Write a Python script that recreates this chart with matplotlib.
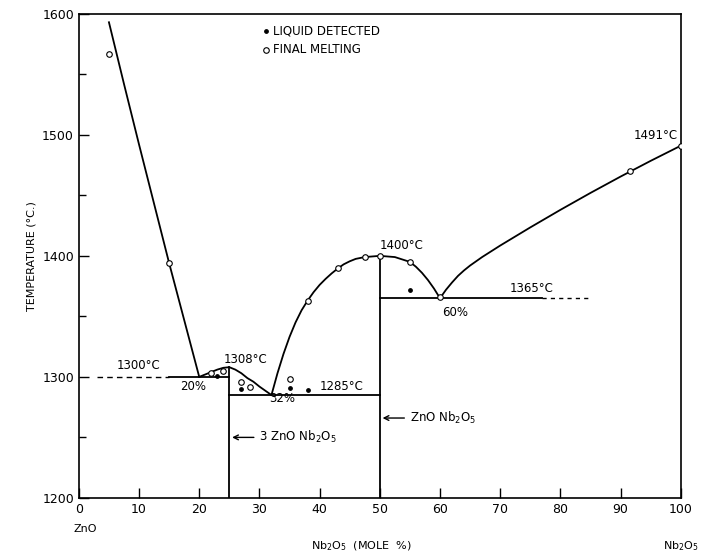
"""
ZnO - Nb2O5 phase diagram
"""

import matplotlib.pyplot as plt

# liquidus, ZnO side down to the 20% eutectic
liq_zno_x = [5, 7.5, 10, 12.5, 15, 17.5, 20]
liq_zno_t = [1593, 1542, 1492, 1443, 1394, 1347, 1300]

# 3ZnO.Nb2O5 liquidus, 20% -> 32%
liq_mid_x = [20, 21, 22, 23, 24, 25, 26, 27, 28, 29, 30, 31, 32]
liq_mid_t = [1300, 1302, 1304, 1306, 1307.5, 1308, 1306, 1303, 1299, 1296, 1292, 1288.5, 1285]

# ZnO.Nb2O5 dome, 32% -> 60%
liq_dome_x = [32, 33, 34, 35, 36, 37, 38, 39, 40, 41, 42, 43, 44, 45, 46, 47.5, 50,
              52.5, 55, 56, 57, 58, 59, 60]
liq_dome_t = [1285, 1303, 1319, 1333, 1345, 1355, 1363, 1370, 1376, 1381, 1385.5, 1389.5,
              1393, 1395.5, 1397.5, 1399, 1400, 1399, 1395, 1391, 1386, 1380, 1373, 1365]

# Nb2O5 side, 60% -> 100%
liq_nb_x = [60, 61, 62, 63, 64, 65, 67, 70, 75, 80, 85, 90, 95, 100]
liq_nb_t = [1365, 1372, 1378, 1383.5, 1388, 1392, 1399, 1408.5, 1423.5, 1438, 1452,
            1465.5, 1478.5, 1491]

# measured points
melt_x = [5, 15, 22, 24, 27, 28.5, 35, 38, 43, 47.5, 50, 55, 60, 91.5, 100]
melt_t = [1567, 1394, 1303, 1305, 1296, 1292, 1298, 1363, 1390, 1399, 1400, 1395, 1366, 1470, 1491]
liquid_x = [23, 27, 35, 38, 55]
liquid_t = [1301, 1290, 1291, 1289, 1372]

fig = plt.figure(figsize=(7.04, 5.52), dpi=100)
ax = fig.add_axes([0.112, 0.098, 0.855, 0.877])

lw = 1.3
for xs, ts in [(liq_zno_x, liq_zno_t), (liq_mid_x, liq_mid_t),
               (liq_dome_x, liq_dome_t), (liq_nb_x, liq_nb_t)]:
    ax.plot(xs, ts, color='black', lw=lw, solid_joinstyle='round')

# eutectic / solidus lines
ax.plot([3, 15], [1300, 1300], color='black', lw=1.0, ls=(0, (4, 3)))
ax.plot([15, 25], [1300, 1300], color='black', lw=lw)
ax.plot([25, 50], [1285, 1285], color='black', lw=lw)
ax.plot([50, 77], [1365, 1365], color='black', lw=lw)
ax.plot([77, 85], [1365, 1365], color='black', lw=1.0, ls=(0, (3, 3)))

# compounds
ax.plot([25, 25], [1200, 1308], color='black', lw=lw)
ax.plot([50, 50], [1200, 1400], color='black', lw=lw)

h1 = ax.scatter(liquid_x, liquid_t, s=6, color='black', zorder=3)
h2 = ax.scatter(melt_x, melt_t, s=16, facecolor='white', edgecolor='black', lw=0.8, zorder=3)
ax.legend([h1, h2], ['LIQUID DETECTED', 'FINAL MELTING'], loc='upper left',
          bbox_to_anchor=(0.285, 1.0), frameon=False, handletextpad=0.2,
          handlelength=0.8, labelspacing=0.5, fontsize=8.5)

fs = 8.5
ax.text(10, 1304, '1300°C', fontsize=fs, ha='center', va='bottom')
ax.text(19, 1292, '20%', fontsize=fs, ha='center', va='center')
ax.text(24, 1309, '1308°C', fontsize=fs, ha='left', va='bottom')
ax.text(33.7, 1282, '32%', fontsize=fs, ha='center', va='center')
ax.text(40, 1287, '1285°C', fontsize=fs, ha='left', va='bottom')
ax.text(50, 1403, '1400°C', fontsize=fs, ha='left', va='bottom')
ax.text(62.5, 1353, '60%', fontsize=fs, ha='center', va='center')
ax.text(71.5, 1368, '1365°C', fontsize=fs, ha='left', va='bottom')
ax.text(99.5, 1494, '1491°C', fontsize=fs, ha='right', va='bottom')

ax.annotate('3 ZnO Nb$_2$O$_5$', xy=(25, 1250), xytext=(30, 1250), fontsize=fs,
            va='center', arrowprops=dict(arrowstyle='->', color='black', lw=1.0))
ax.annotate('ZnO Nb$_2$O$_5$', xy=(50, 1266), xytext=(55, 1266), fontsize=fs,
            va='center', arrowprops=dict(arrowstyle='->', color='black', lw=1.0))

ax.set_xlim(0, 100)
ax.set_ylim(1200, 1600)
ax.set_xticks(range(0, 101, 10))
ax.set_yticks(range(1200, 1601, 100))
ax.set_yticks(range(1250, 1600, 100), minor=True)
ax.tick_params(direction='in', length=7, width=1.0, labelsize=9)
ax.tick_params(which='minor', direction='in', length=5, width=1.0)
for s in ax.spines.values():
    s.set_linewidth(1.2)

ax.set_ylabel('TEMPERATURE (°C.)', fontsize=8)
ax.text(47, -0.1, 'Nb$_2$O$_5$  (MOLE  %)', transform=ax.get_xaxis_transform(),
        fontsize=8, ha='center', va='center')
ax.text(1, -0.065, 'ZnO', transform=ax.get_xaxis_transform(), fontsize=8, ha='center', va='center')
ax.text(100, -0.1, 'Nb$_2$O$_5$', transform=ax.get_xaxis_transform(), fontsize=8, ha='center', va='center')

plt.savefig('out.png', dpi=100)
